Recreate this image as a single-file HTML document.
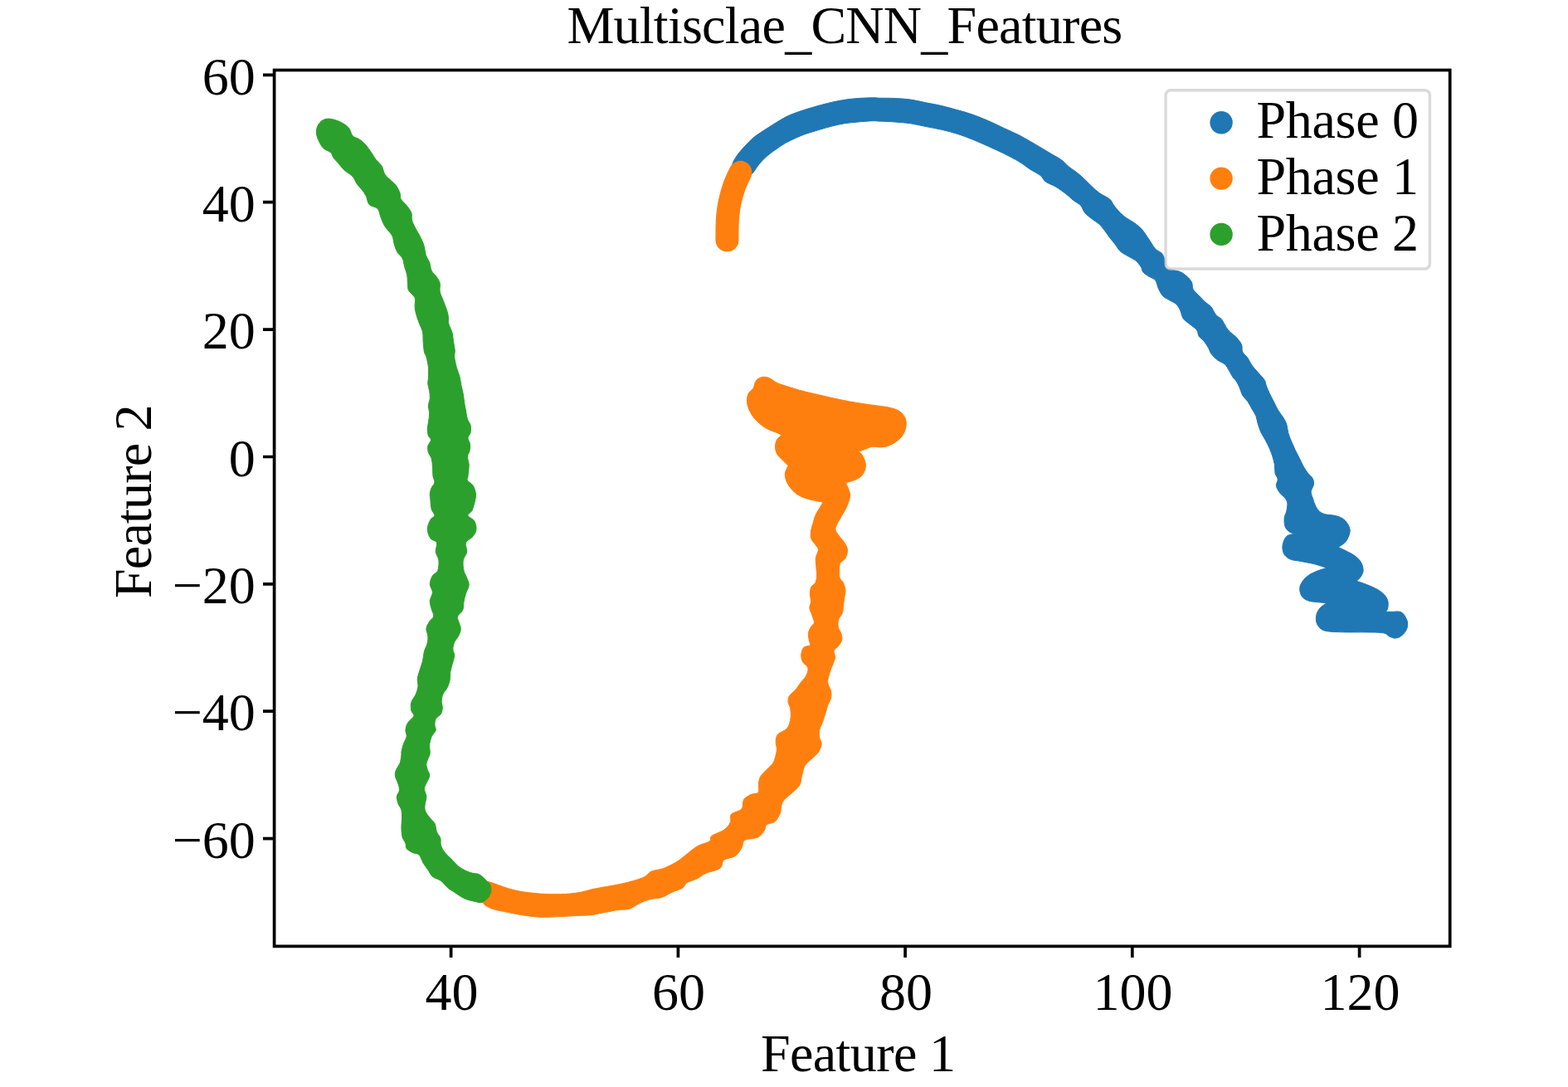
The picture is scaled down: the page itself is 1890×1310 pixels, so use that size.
<!DOCTYPE html>
<html lang="en"><head><meta charset="utf-8"><title>Multisclae_CNN_Features</title>
<style>
html,body{margin:0;padding:0;background:#fff;}
body{width:1890px;height:1310px;overflow:hidden;}
svg{display:block;}
text{font-family:"Liberation Serif",serif;fill:#000;}
</style></head><body>
<svg width="1890" height="1310" viewBox="0 0 1890 1310">
<rect width="1890" height="1310" fill="#fff"/>
<g id="plot">
<path d="M883.8 195.2C885.2 192.0 887.6 188.5 890.1 185.1C892.6 181.8 895.9 178.3 898.8 175.1C901.8 172.0 904.1 169.3 907.6 166.4C911.2 163.4 915.7 160.5 920.1 157.6C924.5 154.7 929.1 151.8 933.9 148.8C938.7 145.9 943.7 142.6 948.9 140.1C954.1 137.6 959.8 135.7 965.2 133.8C970.6 131.9 976.1 130.4 981.5 128.8C986.9 127.2 992.1 125.8 997.8 124.4C1003.4 123.1 1009.2 121.6 1015.3 120.7C1021.3 119.7 1027.8 119.0 1034.1 118.5C1040.3 118.1 1048.5 117.8 1052.8 117.8C1057.2 117.7 1055.7 118.0 1060.0 118.2C1064.3 118.3 1072.5 118.2 1078.8 118.5C1085.0 118.8 1091.3 119.2 1097.6 120.0C1103.8 120.9 1110.1 122.5 1116.3 123.8C1122.6 125.0 1128.9 126.1 1135.1 127.5C1141.4 129.0 1147.6 130.8 1153.9 132.6C1160.2 134.3 1166.4 136.0 1172.7 138.2C1178.9 140.4 1185.2 143.0 1191.5 145.7C1197.7 148.4 1204.0 151.5 1210.2 154.5C1216.5 157.4 1222.8 160.0 1229.0 163.2C1235.3 166.5 1241.5 170.2 1247.8 173.9C1254.1 177.5 1261.2 181.9 1266.6 185.1C1272.0 188.4 1276.3 190.5 1280.0 193.2C1283.8 195.9 1285.9 198.9 1288.8 201.3C1291.7 203.7 1294.7 205.3 1297.6 207.6C1300.5 209.9 1303.4 212.4 1306.3 215.1C1309.3 217.8 1312.0 220.9 1315.1 223.8C1318.2 226.8 1321.4 229.9 1325.1 232.6C1328.9 235.3 1334.7 237.6 1337.6 240.1C1340.6 242.6 1340.6 244.9 1342.7 247.6C1344.7 250.3 1347.7 253.9 1350.2 256.4C1352.7 258.9 1354.8 260.6 1357.7 262.7C1360.6 264.7 1364.6 266.6 1367.7 268.9C1370.8 271.2 1374.0 273.7 1376.5 276.4C1379.0 279.1 1380.8 282.5 1382.7 285.2C1384.6 287.9 1386.1 290.2 1387.7 292.7C1389.4 295.2 1390.6 298.1 1392.7 300.2C1394.8 302.3 1398.4 303.1 1400.2 305.2C1402.1 307.3 1403.2 309.8 1404.0 312.7C1404.8 315.6 1403.6 320.5 1405.1 322.5C1406.5 324.6 1409.6 324.2 1412.6 325.0C1415.5 325.9 1419.7 326.3 1422.6 327.5C1425.5 328.8 1427.8 330.5 1430.1 332.6C1432.4 334.6 1435.0 337.4 1436.4 340.1C1437.7 342.8 1436.8 346.1 1438.2 348.8C1439.7 351.5 1442.7 353.8 1445.1 356.3C1447.5 358.8 1450.1 361.6 1452.6 363.9C1455.1 366.1 1458.1 367.6 1460.1 370.1C1462.2 372.6 1463.1 376.4 1465.2 378.9C1467.2 381.4 1470.6 382.6 1472.7 385.1C1474.8 387.6 1476.0 391.4 1477.7 393.9C1479.3 396.4 1480.6 398.1 1482.7 400.2C1484.8 402.2 1487.9 403.9 1490.2 406.4C1492.5 408.9 1495.2 412.3 1496.5 415.2C1497.7 418.1 1496.5 421.2 1497.7 424.0C1499.0 426.7 1502.1 428.8 1504.0 431.5C1505.8 434.2 1506.9 437.3 1509.0 440.2C1511.1 443.1 1514.0 446.1 1516.5 449.0C1519.0 451.9 1522.3 455.1 1524.0 457.8C1525.7 460.4 1525.4 462.4 1526.4 465.0C1527.4 467.7 1528.7 470.7 1530.1 473.8C1531.6 476.9 1533.5 480.5 1535.2 483.8C1536.8 487.1 1538.3 490.7 1540.2 493.8C1542.0 497.0 1544.6 499.7 1546.4 502.6C1548.2 505.5 1549.8 508.2 1550.8 511.3C1551.8 514.5 1551.7 518.0 1552.7 521.4C1553.6 524.7 1555.0 527.8 1556.4 531.4C1557.9 534.9 1559.8 539.1 1561.4 542.7C1563.1 546.2 1564.8 549.3 1566.5 552.7C1568.1 556.0 1569.8 559.8 1571.5 562.7C1573.1 565.6 1574.7 567.9 1576.5 570.2C1578.2 572.5 1581.0 574.2 1582.1 576.5C1583.3 578.8 1583.7 581.3 1583.4 584.0C1583.0 586.7 1580.3 589.8 1580.2 592.7C1580.1 595.7 1582.0 599.0 1582.7 601.5C1583.5 603.9 1583.7 605.2 1584.7 607.4C1585.8 609.7 1587.0 612.8 1589.0 614.9C1590.9 616.9 1593.2 618.6 1596.4 619.6C1599.6 620.7 1604.5 620.4 1608.1 621.2C1611.6 622.0 1615.0 622.8 1617.6 624.4C1620.3 626.0 1622.4 628.3 1624.0 630.8C1625.6 633.2 1627.0 636.4 1627.2 639.3C1627.3 642.1 1626.1 645.3 1625.0 647.7C1624.0 650.2 1622.7 652.2 1620.8 654.1C1618.9 656.1 1614.6 658.5 1613.4 659.4C1612.1 660.3 1611.2 658.4 1613.4 659.4C1615.5 660.5 1622.6 663.8 1626.1 665.8C1629.6 667.7 1632.1 669.0 1634.6 671.1C1637.1 673.2 1639.5 675.7 1641.0 678.5C1642.4 681.3 1643.3 685.2 1643.1 688.1C1642.9 690.9 1641.2 693.5 1639.9 695.5C1638.6 697.5 1635.9 699.5 1635.1 700.3C1634.3 701.1 1633.1 699.6 1635.1 700.3C1637.2 701.0 1643.2 702.8 1647.3 704.5C1651.5 706.2 1656.5 708.3 1660.1 710.3C1663.6 712.4 1666.4 714.4 1668.5 716.7C1670.7 719.0 1672.1 721.5 1672.8 724.1C1673.5 726.8 1673.2 730.4 1672.8 732.6C1672.4 734.8 1670.9 736.5 1670.5 737.3C1670.1 738.1 1669.3 737.3 1670.5 737.3C1671.7 737.3 1675.1 737.3 1677.9 737.3C1680.8 737.3 1685.0 736.6 1687.5 737.3C1690.0 738.0 1691.3 739.4 1692.8 741.5C1694.3 743.7 1696.1 747.2 1696.5 750.0C1696.9 752.9 1696.6 755.9 1695.4 758.5C1694.3 761.2 1691.8 764.2 1689.6 765.9C1687.4 767.7 1684.7 768.9 1682.2 769.1C1679.7 769.3 1677.2 768.1 1674.7 767.0C1672.3 765.9 1672.1 763.6 1667.3 762.8C1662.5 761.9 1653.2 762.1 1646.1 761.9C1639.0 761.8 1632.0 762.0 1624.9 761.9C1617.8 761.8 1609.0 761.7 1603.7 761.2C1598.4 760.6 1595.8 760.2 1593.1 758.5C1590.3 756.8 1588.3 753.9 1587.2 751.1C1586.2 748.3 1586.1 744.5 1586.7 741.5C1587.3 738.5 1588.9 735.5 1590.9 733.1C1593.0 730.6 1597.6 727.7 1598.9 726.7C1600.2 725.6 1600.5 726.8 1598.9 726.7C1597.2 726.5 1592.6 726.2 1589.0 725.7C1585.4 725.3 1580.6 725.3 1577.3 724.1C1574.0 723.0 1571.1 721.3 1569.3 718.8C1567.6 716.4 1566.6 712.3 1566.7 709.3C1566.8 706.3 1568.1 703.4 1569.9 700.8C1571.6 698.1 1574.3 695.5 1577.3 693.4C1580.3 691.2 1584.3 689.6 1587.9 688.1C1591.5 686.6 1597.2 685.0 1599.0 684.4C1600.9 683.7 1601.6 685.1 1599.0 684.4C1596.5 683.6 1588.9 680.9 1583.7 679.6C1578.4 678.2 1572.3 677.3 1567.7 676.4C1563.1 675.5 1559.3 675.5 1556.1 674.3C1552.9 673.0 1550.3 671.1 1548.6 669.0C1547.0 666.8 1546.3 664.2 1546.0 661.5C1545.7 658.9 1546.1 655.7 1547.1 653.1C1548.0 650.4 1549.3 647.3 1551.8 645.6C1554.4 643.9 1560.7 643.4 1562.4 643.0C1564.2 642.5 1563.7 643.2 1562.4 643.0C1561.2 642.7 1557.2 642.7 1555.0 641.4C1552.8 640.1 1550.3 637.8 1549.2 635.0C1548.0 632.2 1547.9 627.6 1548.1 624.4C1548.4 621.2 1550.2 618.9 1550.8 615.9C1551.4 612.9 1552.1 609.0 1551.8 606.4C1551.5 603.8 1550.5 602.3 1548.9 600.2C1547.4 598.2 1544.4 596.5 1542.7 594.0C1540.9 591.5 1538.7 587.9 1538.3 585.2C1537.9 582.5 1540.4 580.2 1540.2 577.7C1540.0 575.2 1537.7 573.1 1537.0 570.2C1536.4 567.3 1536.9 563.5 1536.4 560.2C1535.9 556.8 1534.9 553.5 1533.9 550.2C1532.9 546.8 1531.6 543.5 1530.1 540.1C1528.7 536.8 1526.8 533.3 1525.1 530.1C1523.5 527.0 1521.6 524.5 1520.1 521.4C1518.7 518.2 1517.4 514.7 1516.4 511.3C1515.3 508.0 1515.1 504.5 1513.9 501.3C1512.6 498.2 1510.5 495.5 1508.9 492.6C1507.2 489.6 1505.7 486.5 1503.9 483.8C1502.0 481.1 1499.3 479.2 1497.6 476.3C1495.9 473.4 1495.3 469.4 1493.8 466.3C1492.4 463.1 1490.1 459.3 1488.8 457.5C1487.6 455.7 1487.7 457.1 1486.4 455.3C1485.2 453.4 1483.1 449.2 1481.4 446.5C1479.8 443.8 1478.7 441.1 1476.4 439.0C1474.1 436.9 1470.4 436.1 1467.7 434.0C1464.9 431.9 1462.0 429.0 1460.1 426.5C1458.3 424.0 1457.9 421.4 1456.4 418.9C1454.9 416.4 1453.3 413.7 1451.4 411.4C1449.5 409.1 1446.6 407.5 1445.1 405.2C1443.7 402.9 1444.3 400.0 1442.6 397.7C1440.9 395.4 1437.8 393.7 1435.1 391.4C1432.4 389.1 1428.4 386.8 1426.3 383.9C1424.3 381.0 1424.0 376.8 1422.6 373.9C1421.1 370.9 1419.9 368.4 1417.6 366.4C1415.3 364.3 1411.5 363.0 1408.8 361.3C1406.1 359.7 1403.4 358.6 1401.3 356.3C1399.2 354.0 1397.8 350.7 1396.3 347.6C1394.8 344.4 1394.6 340.1 1392.5 337.6C1390.4 335.1 1386.2 334.2 1383.8 332.6C1381.3 330.9 1379.1 329.6 1377.7 327.8C1376.3 325.9 1376.7 323.8 1375.2 321.5C1373.7 319.2 1371.4 316.1 1368.9 314.0C1366.4 311.9 1363.3 310.9 1360.2 309.0C1357.0 307.1 1352.9 305.2 1350.2 302.7C1347.5 300.2 1346.0 296.7 1343.9 294.0C1341.8 291.2 1339.7 289.2 1337.6 286.4C1335.6 283.7 1333.5 280.4 1331.4 277.7C1329.3 275.0 1327.6 272.5 1325.1 270.2C1322.6 267.9 1319.3 266.2 1316.4 263.9C1313.4 261.6 1309.9 259.1 1307.6 256.4C1305.3 253.7 1304.9 250.1 1302.6 247.6C1300.3 245.1 1296.7 243.7 1293.8 241.4C1290.9 239.1 1288.6 236.5 1285.1 233.9C1281.6 231.2 1277.0 227.7 1272.8 225.2C1268.7 222.7 1263.5 221.2 1260.3 218.9C1257.2 216.6 1257.2 213.9 1254.1 211.4C1250.9 208.9 1245.7 206.6 1241.5 203.9C1237.4 201.2 1234.2 198.3 1229.0 195.2C1223.8 192.0 1216.5 188.3 1210.2 185.1C1204.0 182.0 1197.7 179.2 1191.5 176.4C1185.2 173.6 1178.9 170.7 1172.7 168.2C1166.4 165.7 1160.2 163.3 1153.9 161.3C1147.6 159.4 1141.4 157.8 1135.1 156.3C1128.9 154.9 1122.6 153.8 1116.3 152.6C1110.1 151.3 1103.8 149.8 1097.6 148.8C1091.3 147.9 1085.0 147.4 1078.8 147.0C1072.5 146.5 1064.3 146.3 1060.0 146.1C1055.7 145.9 1057.2 145.6 1052.8 145.7C1048.5 145.8 1039.9 146.4 1034.1 147.0C1028.2 147.5 1023.0 148.0 1017.8 148.8C1012.6 149.7 1007.8 150.7 1002.8 152.0C997.8 153.2 993.0 154.8 987.7 156.3C982.5 157.9 976.3 159.7 971.5 161.3C966.7 163.0 963.1 164.5 958.9 166.4C954.8 168.2 950.4 170.3 946.4 172.6C942.5 174.9 938.7 177.6 935.2 180.1C931.6 182.6 928.5 184.7 925.1 187.6C921.8 190.6 918.1 194.1 915.1 197.7C912.1 201.2 909.9 205.9 907.0 208.9C904.1 212.0 900.8 215.2 897.6 215.8C894.4 216.4 890.2 214.7 887.6 212.7C885.0 210.7 882.6 206.8 881.9 203.9C881.3 201.0 882.5 198.3 883.8 195.2Z" fill="#1f77b4" stroke="#1f77b4" stroke-width="1" stroke-linejoin="round"/>
<path d="M892.4 207.9C891.2 210.7 887.1 218.7 884.9 224.9C882.8 231.0 880.8 238.2 879.4 244.8C878.1 251.5 877.4 257.4 876.9 264.8C876.4 272.2 876.5 285.2 876.4 289.3" fill="none" stroke="#ff7f0e" stroke-width="28" stroke-linecap="round" stroke-linejoin="round"/>
<path d="M580.1 1076.4C580.3 1073.1 581.4 1068.7 582.6 1066.4C583.9 1064.1 584.7 1062.6 587.6 1062.6C590.6 1062.6 596.0 1065.0 600.2 1066.4C604.3 1067.7 608.5 1069.5 612.7 1070.8C616.9 1072.0 621.0 1073.1 625.2 1073.9C629.4 1074.7 633.6 1075.3 637.7 1075.8C641.9 1076.3 646.1 1076.7 650.2 1077.0C654.4 1077.3 658.6 1077.6 662.8 1077.7C666.9 1077.8 671.1 1077.8 675.3 1077.7C679.5 1077.6 683.6 1077.5 687.8 1077.0C692.0 1076.6 696.2 1076.0 700.3 1075.2C704.5 1074.3 708.7 1073.0 712.8 1072.0C717.0 1071.1 722.1 1070.1 725.4 1069.5C728.6 1068.9 728.6 1069.0 732.5 1068.3C736.4 1067.6 743.6 1066.3 748.8 1065.2C754.0 1064.0 759.0 1062.9 763.8 1061.4C768.6 1060.0 774.0 1058.3 777.6 1056.4C781.1 1054.5 781.3 1051.8 785.1 1050.2C788.9 1048.5 795.1 1048.3 800.1 1046.4C805.1 1044.5 811.2 1041.2 815.2 1038.9C819.1 1036.6 819.7 1035.8 823.9 1032.6C828.1 1029.5 835.0 1023.2 840.2 1020.1C845.4 1017.0 852.3 1015.9 855.2 1013.9C858.1 1011.8 854.8 1009.9 857.7 1007.6C860.6 1005.3 869.0 1002.8 872.7 1000.1C876.5 997.4 878.8 994.4 880.3 991.3C881.7 988.2 879.2 984.0 881.5 981.3C883.8 978.6 891.5 978.0 894.0 975.0C896.5 972.1 894.7 966.7 896.5 963.8C898.4 960.9 902.4 959.0 905.3 957.5C908.2 956.1 912.5 957.1 914.1 955.0C915.6 953.0 914.1 948.3 914.5 945.2C914.8 942.1 914.8 939.4 916.3 936.5C917.9 933.6 921.3 930.4 923.9 927.7C926.4 925.0 929.6 922.7 931.4 920.2C933.1 917.7 933.7 915.6 934.5 912.7C935.3 909.8 936.3 905.8 936.4 902.7C936.5 899.5 934.9 896.8 935.1 893.9C935.3 891.0 935.5 887.6 937.6 885.1C939.7 882.6 945.3 881.0 947.6 878.9C949.9 876.8 950.5 875.1 951.4 872.6C952.3 870.1 953.1 867.0 953.3 863.9C953.5 860.7 953.2 856.8 952.7 853.8C952.1 850.9 950.4 848.8 950.1 846.3C949.9 843.8 949.9 841.3 951.4 838.8C952.9 836.3 956.6 834.0 958.9 831.3C961.2 828.6 963.1 825.2 965.2 822.5C967.3 819.8 970.0 817.9 971.4 815.0C972.9 812.1 974.6 807.9 973.9 805.0C973.3 802.1 969.0 800.4 967.6 797.8C966.3 795.1 965.6 791.9 965.8 789.0C966.0 786.1 967.1 782.1 968.9 780.2C970.7 778.3 975.4 779.2 976.4 777.7C977.5 776.3 975.5 774.0 975.2 771.5C974.8 769.0 974.1 765.4 974.5 762.7C974.9 760.0 976.5 757.3 977.7 755.2C978.8 753.1 981.2 752.5 981.4 750.2C981.6 747.9 979.8 744.3 978.9 741.4C978.0 738.5 976.0 735.4 975.8 732.7C975.6 729.9 977.6 727.9 977.7 725.1C977.8 722.4 976.4 719.3 976.4 716.4C976.4 713.5 976.6 709.9 977.7 707.6C978.7 705.3 981.5 704.7 982.7 702.6C983.8 700.5 984.3 698.2 984.5 695.1C984.8 692.0 984.1 687.6 983.9 683.8C983.7 680.1 982.9 676.1 983.3 672.6C983.7 669.0 986.5 665.2 986.4 662.5C986.3 659.8 984.1 658.6 982.7 656.3C981.2 654.0 978.5 651.6 977.7 648.8C976.8 645.9 977.3 642.1 977.7 639.0C978.1 635.9 979.3 633.2 980.2 630.2C981.0 627.3 981.4 624.4 982.7 621.5C983.9 618.6 986.1 615.4 987.7 612.7C989.3 610.0 991.3 606.5 992.1 605.2C992.8 604.0 993.6 605.5 992.1 605.2C990.5 604.9 986.3 604.2 982.7 603.3C979.0 602.5 973.9 601.6 970.2 600.2C966.4 598.8 963.1 597.3 960.1 595.2C957.2 593.1 954.7 590.4 952.6 587.7C950.5 585.0 948.7 581.8 947.6 578.9C946.6 576.0 946.0 573.1 946.4 570.1C946.8 567.2 949.5 562.8 950.1 561.4C950.8 559.9 951.2 562.4 950.1 561.4C949.1 560.3 946.1 557.4 943.9 555.1C941.7 552.8 938.5 550.3 937.0 547.6C935.4 544.9 934.6 541.8 934.5 538.8C934.4 535.9 935.1 532.5 936.4 530.1C937.6 527.7 941.1 525.4 942.0 524.4C942.9 523.5 942.7 524.9 942.0 524.4C941.3 524.0 940.2 523.1 937.6 521.9C935.0 520.8 930.1 519.5 926.3 517.6C922.6 515.6 918.4 513.0 915.1 510.0C911.7 507.1 908.6 503.6 906.3 500.0C904.0 496.5 902.2 492.2 901.3 488.9C900.3 485.5 900.4 482.6 900.7 480.1C900.9 477.6 901.3 475.9 902.5 473.8C903.8 471.8 906.7 470.1 908.2 467.6C909.6 465.1 909.5 461.0 911.3 458.8C913.1 456.6 916.1 455.0 918.8 454.4C921.5 453.9 924.7 454.5 927.6 455.7C930.5 456.8 932.8 459.6 936.3 461.3C939.9 463.0 943.6 464.0 948.9 465.7C954.1 467.4 961.4 469.7 967.6 471.3C973.9 473.0 980.2 474.3 986.4 475.7C992.7 477.2 998.9 478.7 1005.2 480.1C1011.5 481.5 1017.7 482.7 1024.0 483.9C1030.2 485.0 1036.5 486.0 1042.8 487.0C1049.0 487.9 1056.1 488.7 1061.5 489.5C1067.0 490.3 1071.4 490.8 1075.3 492.0C1079.3 493.1 1082.7 494.4 1085.3 496.4C1087.9 498.4 1089.8 501.2 1091.0 503.9C1092.1 506.6 1092.5 509.5 1092.2 512.7C1091.9 515.8 1090.7 519.7 1089.1 522.7C1087.5 525.6 1085.5 527.9 1082.8 530.2C1080.1 532.5 1076.2 535.0 1072.8 536.4C1069.5 537.9 1066.3 538.6 1062.8 538.9C1059.2 539.3 1054.9 537.9 1051.5 538.3C1048.2 538.7 1045.5 540.5 1042.8 541.4C1040.1 542.4 1036.5 543.5 1035.3 544.0C1034.0 544.4 1034.4 542.9 1035.3 544.0C1036.1 545.0 1038.9 547.4 1040.3 550.1C1041.6 552.8 1043.2 557.0 1043.4 560.1C1043.6 563.3 1042.7 566.4 1041.5 568.9C1040.4 571.4 1038.6 573.5 1036.5 575.2C1034.4 576.8 1031.7 577.8 1029.0 578.9C1026.3 580.1 1021.4 580.6 1020.2 582.0C1019.1 583.5 1021.4 585.3 1022.1 587.7C1022.9 590.1 1024.5 593.5 1024.6 596.4C1024.7 599.4 1023.7 602.3 1022.7 605.2C1021.8 608.1 1020.5 611.0 1019.0 614.0C1017.5 616.9 1015.7 619.8 1014.0 622.7C1012.3 625.7 1010.1 628.8 1009.0 631.5C1007.8 634.2 1006.5 636.3 1007.1 639.0C1007.7 641.7 1010.9 645.1 1012.7 647.5C1014.5 650.0 1016.3 651.3 1017.7 653.8C1019.2 656.3 1021.3 659.4 1021.5 662.5C1021.7 665.7 1020.4 669.8 1019.0 672.6C1017.5 675.3 1014.0 676.3 1012.7 678.8C1011.5 681.3 1011.6 684.7 1011.5 687.6C1011.4 690.5 1011.3 693.8 1012.1 696.3C1012.9 698.8 1015.3 700.1 1016.5 702.6C1017.6 705.1 1018.8 708.4 1019.0 711.4C1019.2 714.3 1018.1 717.0 1017.7 720.1C1017.3 723.3 1016.9 727.0 1016.5 730.1C1016.1 733.3 1016.2 736.2 1015.2 738.9C1014.3 741.6 1011.7 743.7 1010.8 746.4C1010.0 749.1 1009.7 752.3 1010.2 755.2C1010.7 758.1 1013.2 761.2 1014.0 764.0C1014.7 766.7 1015.2 769.0 1014.6 771.5C1014.0 774.0 1011.8 776.9 1010.2 779.0C1008.6 781.1 1005.8 781.7 1005.2 784.0C1004.6 786.3 1006.7 790.0 1006.5 792.7C1006.2 795.5 1005.0 797.4 1004.0 800.3C1002.9 803.1 1001.3 806.3 1000.2 810.0C999.2 813.7 997.5 818.8 997.7 822.5C997.9 826.3 1000.9 829.4 1001.5 832.6C1002.1 835.7 1002.1 838.4 1001.5 841.3C1000.9 844.2 998.8 847.2 997.7 850.1C996.7 853.0 996.3 855.5 995.2 858.8C994.2 862.2 992.7 866.6 991.5 870.1C990.2 873.7 988.3 877.0 987.7 880.1C987.1 883.3 987.3 886.2 987.7 888.9C988.1 891.6 990.4 893.5 990.2 896.4C990.0 899.3 988.3 903.5 986.5 906.4C984.6 909.3 981.7 911.2 978.9 913.9C976.2 916.6 972.3 919.2 970.2 922.7C968.1 926.2 967.7 931.0 966.4 935.2C965.2 939.4 966.2 943.0 962.7 947.7C959.2 952.5 948.9 959.6 945.4 963.8C941.9 967.9 942.4 969.8 941.6 972.5C940.8 975.2 941.6 977.1 940.4 980.0C939.1 983.0 936.8 987.8 934.1 990.1C931.4 992.4 926.2 992.2 924.1 993.8C922.0 995.5 923.2 997.6 921.6 1000.1C919.9 1002.6 918.0 1006.8 914.1 1008.8C910.1 1010.9 901.1 1010.5 897.8 1012.6C894.5 1014.7 895.9 1018.2 894.0 1021.4C892.2 1024.5 890.1 1028.9 886.5 1031.4C883.0 1033.9 875.9 1033.9 872.7 1036.4C869.6 1038.9 871.5 1043.7 867.7 1046.4C864.0 1049.1 854.8 1050.6 850.2 1052.7C845.6 1054.8 844.0 1057.0 840.2 1058.9C836.4 1060.8 830.6 1062.1 827.7 1063.9C824.8 1065.8 825.6 1068.3 822.7 1070.2C819.7 1072.1 814.3 1073.3 810.1 1075.2C806.0 1077.1 802.2 1080.0 797.6 1081.5C793.0 1082.9 787.2 1082.7 782.6 1084.0C778.0 1085.2 774.0 1087.1 770.1 1089.0C766.1 1090.9 763.0 1094.0 758.8 1095.2C754.6 1096.5 749.4 1095.9 745.0 1096.5C740.7 1097.1 735.8 1098.4 732.5 1099.0C729.2 1099.6 728.6 1099.6 725.4 1100.2C722.1 1100.8 717.0 1102.2 712.8 1102.7C708.7 1103.2 704.5 1103.1 700.3 1103.3C696.2 1103.5 692.0 1103.7 687.8 1104.0C683.6 1104.2 679.5 1104.4 675.3 1104.6C671.1 1104.8 666.9 1105.1 662.8 1105.2C658.6 1105.3 654.4 1105.4 650.2 1105.2C646.1 1105.0 641.9 1104.5 637.7 1104.0C633.6 1103.4 629.4 1102.8 625.2 1102.1C621.0 1101.3 616.9 1100.4 612.7 1099.6C608.5 1098.7 604.3 1098.2 600.2 1097.1C596.0 1095.9 590.8 1094.5 587.6 1092.7C584.5 1090.9 582.6 1089.1 581.4 1086.4C580.1 1083.7 579.9 1079.7 580.1 1076.4Z" fill="#ff7f0e" stroke="#ff7f0e" stroke-width="1" stroke-linejoin="round"/>
<path d="M397.6 143.2C401.1 143.5 406.3 145.1 410.1 146.9C413.8 148.7 417.6 151.0 420.1 153.8C422.6 156.6 423.0 161.5 425.1 163.8C427.2 166.1 430.1 165.9 432.6 167.6C435.1 169.2 437.6 171.1 440.1 173.8C442.6 176.6 445.5 180.7 447.6 183.9C449.8 187.0 451.2 189.9 453.3 192.6C455.4 195.3 458.4 197.2 460.2 200.1C461.9 203.1 462.0 207.2 463.9 210.1C465.8 213.1 469.1 215.4 471.4 217.7C473.7 220.0 475.9 221.4 477.7 223.9C479.5 226.4 481.1 230.0 482.1 232.7C483.0 235.4 482.0 237.7 483.3 240.2C484.7 242.7 488.1 245.0 490.2 247.7C492.3 250.4 494.8 253.6 495.8 256.5C496.9 259.4 495.7 262.3 496.5 265.2C497.2 268.2 498.4 270.3 500.2 274.0C502.1 277.7 505.8 283.6 507.6 287.5C509.5 291.5 510.5 294.2 511.4 297.5C512.3 300.9 512.2 304.4 513.3 307.6C514.3 310.7 516.5 313.2 517.7 316.3C518.8 319.5 518.7 323.4 520.2 326.3C521.6 329.3 524.8 331.3 526.4 333.9C528.1 336.4 529.6 338.4 530.2 341.4C530.8 344.3 529.6 348.0 530.2 351.4C530.8 354.7 532.7 358.1 533.9 361.4C535.2 364.7 536.6 368.3 537.7 371.4C538.7 374.5 539.7 377.0 540.2 380.2C540.7 383.3 540.0 386.6 540.8 390.2C541.7 393.7 544.3 397.9 545.2 401.5C546.1 405.0 545.9 407.9 546.5 411.5C547.0 415.0 548.1 419.7 548.3 422.7C548.5 425.8 547.4 426.7 547.7 430.0C548.0 433.3 549.2 438.6 550.2 442.5C551.3 446.5 553.0 450.2 554.0 453.8C554.9 457.3 555.1 460.3 555.8 463.8C556.6 467.4 557.7 471.5 558.3 475.1C559.0 478.6 559.1 481.8 559.6 485.1C560.1 488.4 560.9 491.8 561.5 495.1C562.1 498.4 562.4 502.2 563.4 505.1C564.3 508.0 566.5 509.9 567.1 512.6C567.7 515.3 567.6 518.9 567.1 521.4C566.6 523.9 564.1 525.4 564.0 527.7C563.9 530.0 566.2 532.5 566.5 535.2C566.8 537.9 566.4 541.4 565.9 543.9C565.3 546.4 563.5 547.5 563.4 550.2C563.3 552.9 565.1 556.2 565.2 560.2C565.3 564.2 564.3 570.9 564.0 574.0C563.7 577.1 562.3 577.1 563.4 579.0C564.4 580.9 568.6 582.6 570.2 585.3C571.9 587.9 573.0 592.1 573.4 595.0C573.8 597.9 573.5 599.2 572.7 602.5C572.0 605.9 570.5 611.9 569.0 615.0C567.5 618.2 563.6 619.2 564.0 621.3C564.4 623.4 569.8 624.8 571.5 627.6C573.2 630.3 574.2 634.4 574.0 637.6C573.8 640.7 572.3 643.6 570.2 646.3C568.2 649.1 562.7 650.7 561.5 653.9C560.2 657.0 563.3 661.6 562.7 665.1C562.2 668.7 559.0 671.4 558.3 675.1C557.7 678.9 558.2 684.1 559.0 687.7C559.7 691.2 561.7 693.5 562.7 696.4C563.8 699.3 565.4 702.1 565.2 705.2C565.0 708.3 562.5 711.9 561.5 715.2C560.4 718.5 559.6 721.9 559.0 725.2C558.3 728.6 559.0 732.3 557.7 735.2C556.5 738.2 552.3 740.5 551.5 742.7C550.6 745.0 552.1 746.5 552.7 749.0C553.3 751.5 555.2 754.6 555.3 757.5C555.3 760.4 554.0 763.6 552.7 766.3C551.5 769.0 548.9 771.1 547.7 773.8C546.6 776.5 545.9 779.8 545.9 782.6C545.9 785.3 547.8 787.1 547.7 790.1C547.6 793.0 546.1 796.7 545.2 800.1C544.4 803.4 543.3 806.8 542.7 810.1C542.2 813.4 542.7 817.0 542.1 820.1C541.5 823.2 540.3 826.2 539.0 828.9C537.6 831.6 535.1 833.7 534.0 836.4C532.8 839.1 532.2 842.4 532.1 845.2C532.0 847.9 533.4 850.2 533.3 852.7C533.2 855.2 532.8 857.9 531.5 860.2C530.1 862.5 526.5 864.1 525.2 866.4C524.0 868.7 524.0 871.7 524.0 874.0C524.0 876.2 525.8 877.9 525.2 880.2C524.6 882.5 521.4 884.8 520.2 887.7C518.9 890.6 518.0 894.6 517.7 897.7C517.4 900.9 518.3 904.5 518.3 906.5C518.3 908.5 518.4 907.7 517.7 910.0C517.0 912.3 514.4 917.1 513.9 920.0C513.5 922.9 514.6 925.0 515.2 927.5C515.8 930.0 518.1 931.9 517.7 935.0C517.3 938.2 513.7 943.6 512.7 946.3C511.6 949.0 511.2 949.0 511.4 951.3C511.6 953.6 513.8 957.0 513.9 960.1C514.0 963.2 512.3 967.2 512.1 970.1C511.8 973.0 511.7 975.1 512.7 977.6C513.6 980.1 515.8 982.6 517.7 985.1C519.6 987.6 522.5 989.7 524.0 992.6C525.4 995.6 525.3 999.7 526.5 1002.7C527.6 1005.6 530.0 1007.5 530.8 1010.2C531.7 1012.9 530.5 1016.0 531.5 1018.9C532.4 1021.8 534.2 1024.8 536.5 1027.7C538.8 1030.6 542.3 1033.5 545.2 1036.5C548.2 1039.4 550.5 1042.7 554.0 1045.2C557.5 1047.7 562.6 1050.0 566.5 1051.5C570.5 1052.9 574.5 1052.3 577.8 1054.0C581.1 1055.6 584.2 1059.3 586.4 1061.4C588.6 1063.4 589.8 1064.5 590.8 1066.4C591.7 1068.3 592.1 1070.6 592.0 1072.7C591.9 1074.7 591.1 1077.0 590.1 1078.9C589.2 1080.8 588.1 1082.5 586.4 1083.9C584.7 1085.4 582.4 1087.3 580.1 1087.7C577.8 1088.1 575.5 1087.0 572.6 1086.4C569.7 1085.8 565.5 1085.0 562.6 1083.9C559.7 1082.9 557.6 1081.6 555.1 1080.2C552.6 1078.7 550.1 1076.8 547.6 1075.2C545.1 1073.5 542.9 1072.5 540.2 1070.3C537.5 1068.0 534.6 1063.8 531.5 1061.5C528.3 1059.2 524.0 1058.6 521.4 1056.5C518.9 1054.4 518.3 1051.7 516.4 1049.0C514.6 1046.3 512.1 1043.3 510.2 1040.2C508.3 1037.1 507.3 1032.3 505.2 1030.2C503.1 1028.1 500.2 1028.9 497.7 1027.7C495.2 1026.4 491.6 1024.6 490.1 1022.7C488.7 1020.8 489.7 1018.7 488.9 1016.4C488.1 1014.1 486.0 1012.0 485.1 1008.9C484.3 1005.8 484.0 1001.2 483.9 997.6C483.8 994.1 484.5 991.2 484.5 987.6C484.5 984.1 484.6 979.5 483.9 976.4C483.2 973.2 481.1 971.6 480.1 968.8C479.2 966.1 478.0 962.8 478.3 960.1C478.5 957.4 481.1 955.1 481.4 952.6C481.7 950.1 481.0 948.0 480.1 945.1C479.3 942.1 476.8 938.0 476.4 935.0C476.0 932.1 476.7 930.0 477.6 927.5C478.6 925.0 481.0 922.9 482.0 920.0C483.1 917.1 483.6 912.3 483.9 910.0C484.2 907.7 483.5 908.8 483.9 906.5C484.3 904.3 485.3 899.6 486.4 896.5C487.4 893.4 489.7 890.4 490.1 887.7C490.6 885.0 488.7 882.9 488.9 880.2C489.1 877.5 489.7 874.4 491.4 871.4C493.1 868.5 498.2 865.2 498.9 862.7C499.6 860.2 496.3 859.1 495.8 856.4C495.3 853.7 494.9 849.5 495.8 846.4C496.6 843.3 499.4 840.8 500.8 837.6C502.1 834.5 503.5 831.0 503.9 827.6C504.3 824.3 502.9 821.2 503.3 817.6C503.7 814.1 505.4 809.9 506.4 806.3C507.5 802.8 508.7 799.9 509.6 796.3C510.4 792.8 510.5 788.6 511.4 785.1C512.4 781.5 514.5 778.2 515.2 775.0C515.9 771.9 516.0 769.2 515.8 766.3C515.6 763.4 513.6 760.4 513.9 757.5C514.2 754.6 516.2 751.5 517.7 749.0C519.1 746.5 522.2 745.3 522.7 742.7C523.1 740.2 520.9 737.1 520.2 734.0C519.4 730.9 518.1 727.3 518.3 724.0C518.5 720.6 521.4 717.3 521.4 714.0C521.4 710.6 518.3 707.3 518.3 703.9C518.3 700.6 519.8 696.6 521.4 693.9C523.0 691.2 526.4 690.8 527.7 687.7C528.9 684.5 529.3 678.9 528.9 675.1C528.5 671.4 525.6 668.7 525.2 665.1C524.8 661.6 527.5 656.6 526.4 653.9C525.4 651.1 520.8 651.6 518.9 648.8C517.0 646.1 515.2 641.3 515.2 637.6C515.2 633.8 517.5 629.0 518.9 626.3C520.4 623.6 523.7 623.4 523.9 621.3C524.1 619.2 521.0 616.9 520.2 613.8C519.3 610.7 519.2 605.7 518.9 602.5C518.6 599.4 518.1 597.5 518.3 595.0C518.5 592.5 519.2 590.0 520.2 587.8C521.1 585.5 523.6 583.8 523.9 581.5C524.2 579.2 522.5 577.1 522.0 574.0C521.6 570.9 521.7 566.3 521.4 562.7C521.1 559.2 521.0 555.6 520.2 552.7C519.3 549.8 517.1 547.7 516.4 545.2C515.7 542.7 515.3 540.2 515.8 537.7C516.3 535.2 519.4 532.2 519.5 530.2C519.6 528.1 517.1 527.2 516.4 525.2C515.7 523.1 515.2 520.4 515.2 517.6C515.2 514.9 516.0 512.0 516.4 508.9C516.8 505.7 517.7 502.2 517.7 498.9C517.7 495.5 516.3 492.0 516.4 488.8C516.5 485.7 518.1 483.0 518.3 480.1C518.5 477.2 518.1 474.2 517.7 471.3C517.2 468.4 516.0 465.3 515.8 462.6C515.6 459.8 516.3 458.4 516.4 455.0C516.5 451.7 516.8 446.7 516.4 442.5C516.0 438.3 514.7 433.1 513.9 430.0C513.1 426.9 512.0 427.1 511.4 424.0C510.8 420.9 510.5 415.4 510.1 411.5C509.8 407.5 510.4 404.0 509.5 400.2C508.7 396.5 506.5 392.7 505.1 388.9C503.8 385.2 502.2 381.0 501.4 377.7C500.5 374.3 500.3 372.0 500.1 368.9C499.9 365.8 501.4 362.0 500.1 358.9C498.9 355.8 494.1 353.1 492.6 350.1C491.2 347.2 491.7 344.5 491.4 341.4C491.1 338.2 491.4 334.7 490.7 331.3C490.1 328.0 488.5 324.7 487.6 321.3C486.7 318.0 486.6 314.2 485.1 311.3C483.6 308.4 480.5 306.7 478.8 303.8C477.2 300.9 476.1 297.1 475.1 293.8C474.0 290.4 474.4 287.3 472.6 283.8C470.7 280.3 466.2 276.5 463.9 272.7C461.6 269.0 460.4 265.0 458.9 261.5C457.5 257.9 457.5 254.0 455.2 251.5C452.9 249.0 447.4 249.0 445.1 246.5C442.8 244.0 442.8 239.4 441.4 236.4C439.9 233.5 438.3 231.4 436.4 228.9C434.5 226.4 432.0 224.1 430.1 221.4C428.2 218.7 427.6 215.4 425.1 212.7C422.6 209.9 418.0 207.9 415.1 205.1C412.2 202.4 409.8 198.9 407.6 196.4C405.4 193.9 403.4 192.2 401.9 190.1C400.5 188.0 400.8 185.7 398.8 183.9C396.8 182.0 392.4 181.1 390.0 178.8C387.6 176.6 385.9 173.2 384.4 170.1C383.0 167.0 381.5 163.2 381.3 160.1C381.1 156.9 381.9 153.8 383.2 151.3C384.4 148.8 386.4 146.4 388.8 145.0C391.2 143.7 394.0 142.8 397.6 143.2Z" fill="#2ca02c" stroke="#2ca02c" stroke-width="1" stroke-linejoin="round"/>
</g>
<path d="M543.6 1140.4v13.6M817.4 1140.4v13.6M1091.1 1140.4v13.6M1364.8 1140.4v13.6M1638.6 1140.4v13.6M330.6 90.3h-13.6M330.6 243.7h-13.6M330.6 397.1h-13.6M330.6 550.5h-13.6M330.6 703.8h-13.6M330.6 857.2h-13.6M330.6 1010.6h-13.6" stroke="#000" stroke-width="3.7" fill="none"/>
<rect x="1405.1" y="108.7" width="318.3" height="215.3" rx="6" ry="6" fill="#fff" fill-opacity="0.8" stroke="#ccc" stroke-opacity="0.75" stroke-width="3.4"/>
<circle cx="1472.1" cy="147.7" r="13.7" fill="#1f77b4"/>
<circle cx="1472.1" cy="215.1" r="13.7" fill="#ff7f0e"/>
<circle cx="1472.1" cy="282.4" r="13.7" fill="#2ca02c"/>
<text x="1514.5" y="166" font-size="64" letter-spacing="-0.3">Phase 0</text>
<text x="1514.5" y="233.7" font-size="64" letter-spacing="-0.3">Phase 1</text>
<text x="1514.5" y="302.1" font-size="64" letter-spacing="-0.3">Phase 2</text>
<rect x="330.6" y="84.5" width="1417.1" height="1055.9" fill="none" stroke="#000" stroke-width="3.7"/>
<text x="544.4" y="1216.9" font-size="64" text-anchor="middle">40</text>
<text x="818.1" y="1216.9" font-size="64" text-anchor="middle">60</text>
<text x="1091.9" y="1216.9" font-size="64" text-anchor="middle">80</text>
<text x="1365.6" y="1216.9" font-size="64" text-anchor="middle">100</text>
<text x="1639.4" y="1216.9" font-size="64" text-anchor="middle">120</text>
<text x="307.8" y="113.5" font-size="64" text-anchor="end">60</text>
<text x="307.8" y="266.9" font-size="64" text-anchor="end">40</text>
<text x="307.8" y="420.3" font-size="64" text-anchor="end">20</text>
<text x="307.8" y="573.7" font-size="64" text-anchor="end">0</text>
<text x="307.8" y="727.0" font-size="64" text-anchor="end">−20</text>
<text x="307.8" y="880.4" font-size="64" text-anchor="end">−40</text>
<text x="307.8" y="1033.8" font-size="64" text-anchor="end">−60</text>
<text x="683.4" y="52.2" font-size="64" letter-spacing="-0.74">Multisclae<tspan dy="6">_</tspan><tspan dy="-6">CNN</tspan><tspan dy="6">_</tspan><tspan dy="-6">Features</tspan></text>
<text x="917" y="1291" font-size="64" letter-spacing="-0.6">Feature 1</text>
<text transform="translate(182.3 721) rotate(-90)" font-size="64" letter-spacing="-0.8">Feature 2</text>
</svg>
</body></html>
